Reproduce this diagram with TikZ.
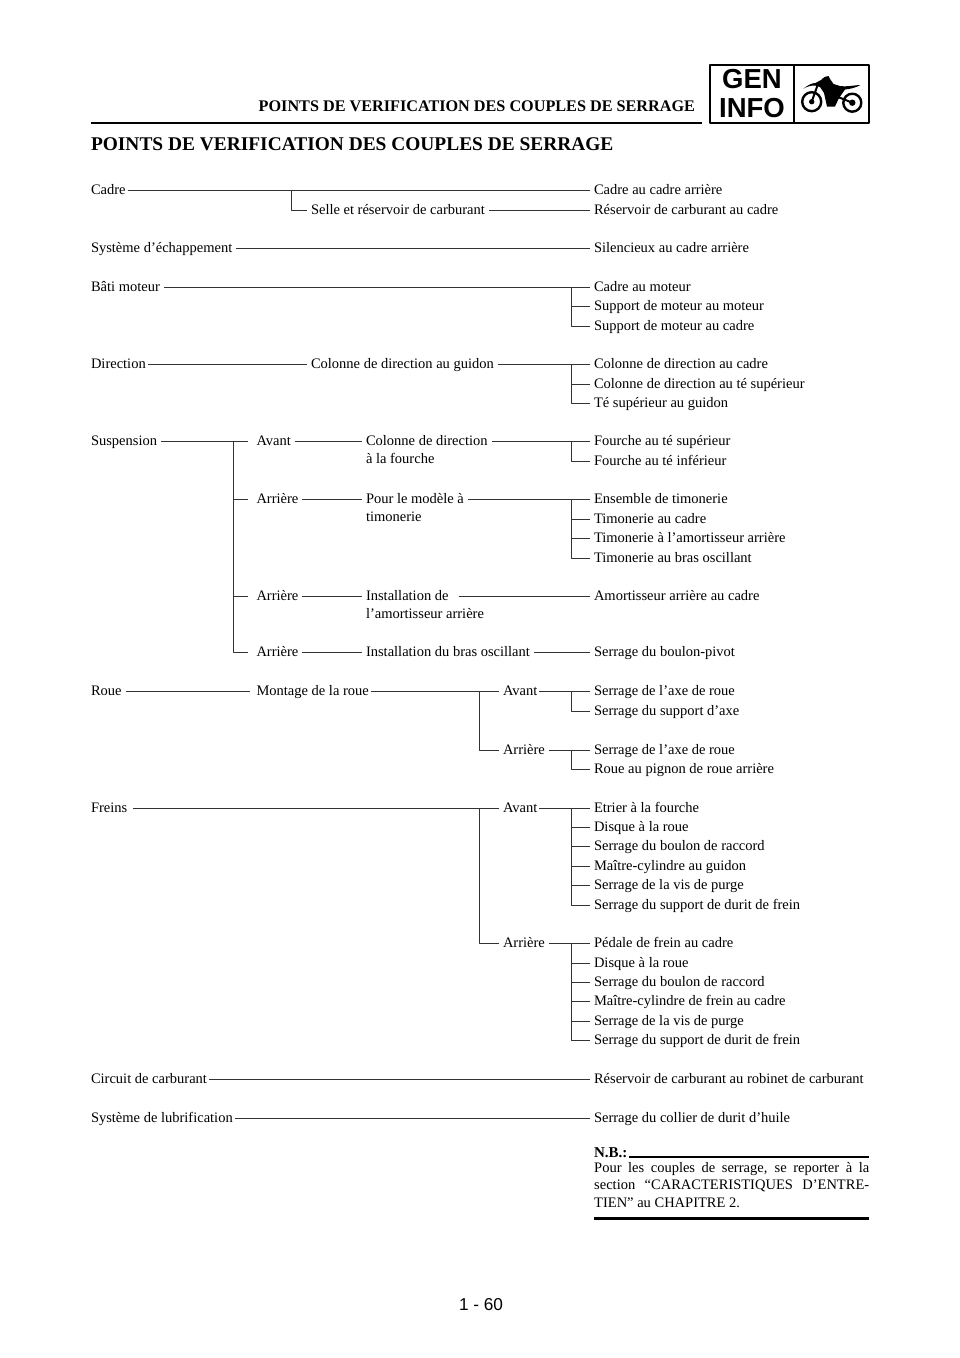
\documentclass[tikz,border=0pt]{standalone}
\usepackage{fontspec}
\setmainfont{Liberation Serif}
\newfontfamily\infofont{Liberation Sans}
\begin{document}
\begin{tikzpicture}[x=1pt,y=-1pt,line join=round,
	lab/.style={anchor=west,inner xsep=0pt,inner ysep=0pt,outer xsep=4pt,outer ysep=0pt,text height=10pt,text depth=2pt,font=\fontsize{14.5}{16}\selectfont},
	conn/.style={black!80,line width=0.9pt},
	tight/.style={conn,shorten <=-2pt},
	heavy/.style={line width=2.4pt}]
	\useasboundingbox (0,0) rectangle (960,1358);
	\coordinate (busc) at (291.5,0);
	\coordinate (buss) at (233.5,0);
	\coordinate (busf) at (479.5,0);
	\coordinate (busr) at (571,0);
	% left column
	\foreach \n/\x/\y/\t in {
		cadre/91/190/Cadre,
		echap/91/248/Système d’échappement,
		bati/91/287/Bâti moteur,
		direc/91/364/Direction,
		susp/91/441/Suspension,
		roue/91/691/Roue,
		freins/91/808/Freins,
		circ/91/1079/Circuit de carburant,
		lubri/91/1118/Système de lubrification}
	{
		\node[lab] (\n) at (\x-4,\y) {\t};
	}
	% middle columns
	\foreach \n/\x/\y/\t in {
		selle/311/210/Selle et réservoir de carburant,
		coldir/311/364/Colonne de direction au guidon,
		av/256.5/441/Avant,
		ar/256.5/499/Arrière,
		arb/256.5/596/Arrière,
		arc/256.5/652/Arrière,
		colfou/366/441/Colonne de direction,
		colfoub/366/459/à la fourche,
		modele/366/499/Pour le modèle à,
		modeleb/366/517/timonerie,
		inst/366/596/Installation de,
		instb/366/614/l’amortisseur arrière,
		bras/366/652/Installation du bras oscillant,
		montage/256.5/691/Montage de la roue,
		rav/503/691/Avant,
		rar/503/750/Arrière,
		fav/503/808/Avant,
		far/503/943/Arrière}
	{
		\node[lab] (\n) at (\x-4,\y) {\t};
	}
	% right column
	\foreach \n/\y/\t in {
		ra/190/Cadre au cadre arrière,
		rb/210/Réservoir de carburant au cadre,
		rc/248/Silencieux au cadre arrière,
		rd/287/Cadre au moteur,
		re/306/Support de moteur au moteur,
		rf/326/Support de moteur au cadre,
		rg/364/Colonne de direction au cadre,
		rh/384/Colonne de direction au té supérieur,
		ri/403/Té supérieur au guidon,
		rj/441/Fourche au té supérieur,
		rk/461/Fourche au té inférieur,
		rl/499/Ensemble de timonerie,
		rm/519/Timonerie au cadre,
		rn/538/Timonerie à l’amortisseur arrière,
		ro/558/Timonerie au bras oscillant,
		rp/596/Amortisseur arrière au cadre,
		rq/652/Serrage du boulon-pivot,
		rr/691/Serrage de l’axe de roue,
		rs/711/Serrage du support d’axe,
		rt/750/Serrage de l’axe de roue,
		ru/769/Roue au pignon de roue arrière,
		rv/808/Etrier à la fourche,
		rw/827/Disque à la roue,
		rx/846.5/Serrage du boulon de raccord,
		ry/866/Maître-cylindre au guidon,
		rz/885/Serrage de la vis de purge,
		sa/905/Serrage du support de durit de frein,
		sb/943/Pédale de frein au cadre,
		sc/963/Disque à la roue,
		sd/982/Serrage du boulon de raccord,
		se/1001/Maître-cylindre de frein au cadre,
		sf/1021/Serrage de la vis de purge,
		sg/1040/Serrage du support de durit de frein,
		sh/1079/Réservoir de carburant au robinet de carburant,
		si/1118/Serrage du collier de durit d’huile}
	{
		\node[lab] (\n) at (594-4,\y) {\t};
	}
	% horizontal runs
	\foreach \a/\b in {
		selle/rb,echap/rc,bati/rd,coldir/rg,
		av/colfou,colfou/rj,ar/modele,modele/rl,arb/inst,bras/rq,arc/bras,
		rar/rt,far/sb}
	{
		\draw[conn] (\a.east) -- (\b.west);
	}
	\foreach \a/\b in {
		cadre/ra,direc/coldir,montage/rav,rav/rr,fav/rv,circ/sh,lubri/si}
	{
		\draw[tight] (\a.east) -- (\b.west);
	}
	\draw[conn] ([xshift=6pt]inst.east) -- (rp.west);
	\draw[conn] ([xshift=2pt]freins.east) -- (rav.west |- freins.east);
	\draw[conn,shorten >=5pt] (susp.east) -- (av.west);
	\draw[conn,shorten >=2.5pt] (roue.east) -- (montage.west);
	% branches
	\foreach \a/\b/\c in {
		cadre/selle/busc,
		montage/rar/busf,freins/far/busf,
		rd/re/busr,rd/rf/busr,rg/rh/busr,rg/ri/busr,rj/rk/busr,
		rl/rm/busr,rl/rn/busr,rl/ro/busr,rr/rs/busr,rt/ru/busr,
		rv/rw/busr,rv/rx/busr,rv/ry/busr,rv/rz/busr,rv/sa/busr,
		sb/sc/busr,sb/sd/busr,sb/se/busr,sb/sf/busr,sb/sg/busr}
	{
		\draw[conn] (\a.east -| \c) |- (\b.west);
	}
	\foreach \b in {ar,arb,arc}
	{
		\draw[conn,shorten >=5pt] (susp.east -| buss) |- (\b.west);
	}
	% header
	\node[lab,font=\fontsize{16.2}{18}\selectfont\bfseries,anchor=east] (head) at (699,107) {POINTS DE VERIFICATION DES COUPLES DE SERRAGE};
	\draw[heavy] (90.5,123.2) -- (702,123.2);
	\node[lab,font=\fontsize{19.4}{22}\selectfont\bfseries] (title) at (87,146) {POINTS DE VERIFICATION DES COUPLES DE SERRAGE};
	\draw[line width=1.8pt] (710,65) rectangle (869,123);
	\draw[line width=1.2pt] (794,65) -- (794,123);
	\node[font=\infofont\fontsize{27.5}{30}\selectfont\bfseries,inner sep=0pt] (gen) at (752,79) {GEN};
	\node[font=\infofont\fontsize{27.5}{30}\selectfont\bfseries,inner sep=0pt] (info) at (752,108.5) {INFO};
	% bike
	\fill (803.3,88.7) .. controls (808,85) and (812,83) .. (815.5,83) -- (821,80) .. controls (824,77) and (826,76) .. (828.5,76) -- (830,79) -- (833.5,84) -- (840,86) .. controls (848,87) and (855,85) .. (860.5,85) .. controls (855,88) and (850,89) .. (845,89.5) -- (839,98) -- (835,106.5) -- (827,106.5) -- (824,93) -- (820,87) -- (815,85.5) .. controls (811,85.5) and (807,86.5) .. cycle;
	\draw[line width=2.4pt] (811.7,101.7) circle (9.5) (852.3,102.7) circle (9);
	\fill (811.7,101.7) circle (2.7) (852.3,102.7) circle (3.2);
	\draw[line width=2pt] (818,84) -- (811.7,101.7) (838,97) -- (852.3,102.7);
	% note
	\node[lab,font=\fontsize{15}{16}\selectfont\bfseries] (nb) at (590,1153) {N.B.:};
	\draw[heavy] (nb.east) ++(-2.5,3.7) -- (869,1156.7);
	\node[anchor=north west,inner sep=0pt,text width=275pt,align=justify,font=\fontsize{14.5}{17.5}\selectfont] (note) at (594,1162) {Pour les couples de serrage, se reporter à la\linebreak section “CARACTERISTIQUES D’ENTRE-\linebreak TIEN” au CHAPITRE 2.};
	\draw[heavy] (note.west |- 0,1218.3) -- (869,1218.3);
	\node[font=\infofont\fontsize{17.2}{20}\selectfont,inner sep=0pt] (page) at (481,1305) {1 - 60};
\end{tikzpicture}
\end{document}
